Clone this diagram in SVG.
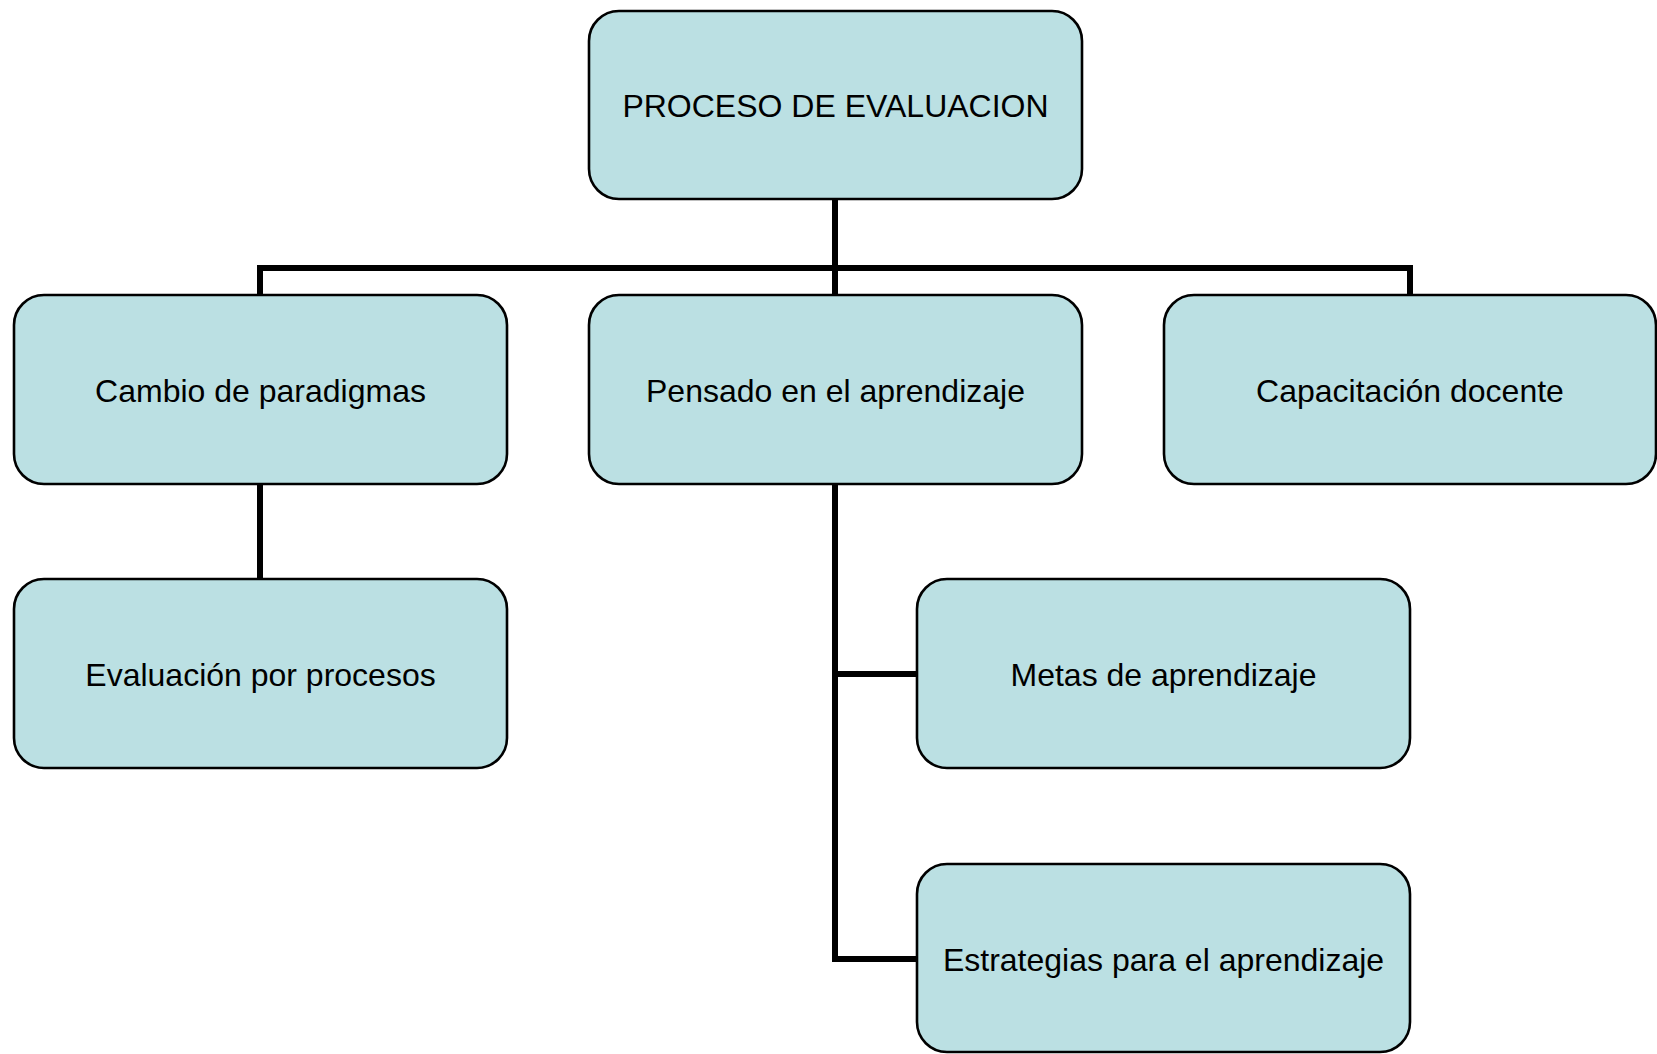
<svg xmlns="http://www.w3.org/2000/svg" width="1657" height="1054" viewBox="0 0 1657 1054">
<style>
.box{fill:#BBE0E3;stroke:#000;stroke-width:2.6}
.lbl{font-family:"Liberation Sans",Arial,sans-serif;font-size:32px;fill:#000;text-anchor:middle}
.con{fill:none;stroke:#000;stroke-width:6;stroke-linejoin:miter}
</style>
<rect width="1657" height="1054" fill="#fff"/>
<g id="connectors">
<path class="con" d="M835,199 V268 M260,295 V268 H1410 V295 M835,268 V295"/>
<path class="con" d="M260,484 V579"/>
<path class="con" d="M835,484 V959 H917 M835,674 H917"/>
</g>
<g id="n-proceso"><rect class="box" x="589" y="11" width="493" height="188" rx="30"/><text class="lbl" x="835.5" y="117">PROCESO DE EVALUACION</text></g>
<g id="n-cambio"><rect class="box" x="14" y="295" width="493" height="189" rx="30"/><text class="lbl" x="260.5" y="402">Cambio de paradigmas</text></g>
<g id="n-pensado"><rect class="box" x="589" y="295" width="493" height="189" rx="30"/><text class="lbl" x="835.5" y="402">Pensado en el aprendizaje</text></g>
<g id="n-capacitacion"><rect class="box" x="1164" y="295" width="492" height="189" rx="30"/><text class="lbl" x="1410" y="402">Capacitación docente</text></g>
<g id="n-evaluacion"><rect class="box" x="14" y="579" width="493" height="189" rx="30"/><text class="lbl" x="260.5" y="686">Evaluación por procesos</text></g>
<g id="n-metas"><rect class="box" x="917" y="579" width="493" height="189" rx="30"/><text class="lbl" x="1163.5" y="686">Metas de aprendizaje</text></g>
<g id="n-estrategias"><rect class="box" x="917" y="864" width="493" height="188" rx="30"/><text class="lbl" x="1163.5" y="971">Estrategias para el aprendizaje</text></g>
</svg>
